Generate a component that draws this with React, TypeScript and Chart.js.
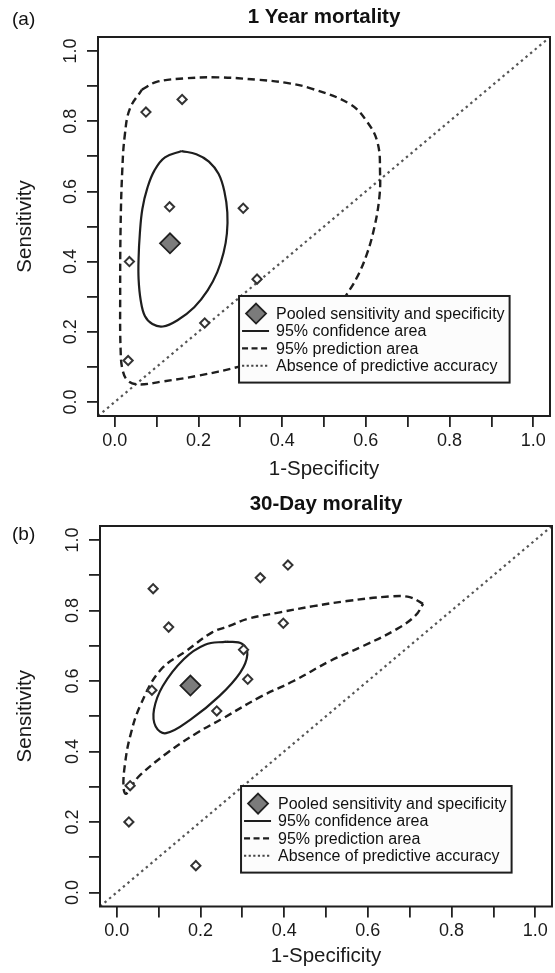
import React, { useEffect, useRef } from "react";
import { Chart, registerables } from "chart.js";

Chart.register(...registerables);

const FONT = "'Liberation Sans', Arial, Helvetica, sans-serif";

// ---------- shared axis data ----------
const tickValues = [0, 0.1, 0.2, 0.3, 0.4, 0.5, 0.6, 0.7, 0.8, 0.9, 1.0];
const tickLabels = ["0.0", "", "0.2", "", "0.4", "", "0.6", "", "0.8", "", "1.0"];
const xAxisTitle = "1-Specificity";
const yAxisTitle = "Sensitivity";
const legendLabels = [
  "Pooled sensitivity and specificity",
  "95% confidence area",
  "95% prediction area",
  "Absence of predictive accuracy",
];
const diagonalX = [-0.04, 1.04];
const diagonalY = [-0.04, 1.04];

// ---------- panel (a): 1 Year mortality ----------
const titleA = "1 Year mortality";
const tagA = "(a)";
const studyAX = [0.0745, 0.161, 0.131, 0.307, 0.035, 0.34, 0.215, 0.032];
const studyAY = [0.826, 0.862, 0.556, 0.552, 0.4, 0.35, 0.225, 0.118];
const pooledAX = [0.132];
const pooledAY = [0.452];
const confAX = [0.16, 0.195, 0.225, 0.248, 0.262, 0.269, 0.268, 0.26, 0.245, 0.222, 0.19, 0.15, 0.115, 0.09, 0.072, 0.062, 0.057, 0.057, 0.06, 0.066, 0.078, 0.095, 0.12, 0.16];
const confAY = [0.715, 0.706, 0.685, 0.65, 0.6, 0.54, 0.48, 0.425, 0.37, 0.318, 0.27, 0.233, 0.215, 0.222, 0.245, 0.29, 0.35, 0.41, 0.48, 0.55, 0.61, 0.66, 0.697, 0.715];
const predAX = [0.065, 0.1, 0.167, 0.247, 0.343, 0.407, 0.47, 0.562, 0.602, 0.628, 0.634, 0.632, 0.62, 0.602, 0.578, 0.554, 0.52, 0.46, 0.38, 0.295, 0.2, 0.112, 0.058, 0.032, 0.019, 0.014, 0.013, 0.014, 0.018, 0.024, 0.036, 0.065];
const predAY = [0.89, 0.912, 0.922, 0.925, 0.918, 0.91, 0.893, 0.849, 0.8, 0.739, 0.65, 0.58, 0.496, 0.42, 0.353, 0.306, 0.245, 0.18, 0.13, 0.1, 0.075, 0.058, 0.05, 0.06, 0.09, 0.15, 0.3, 0.5, 0.66, 0.76, 0.835, 0.89];

// ---------- panel (b): 30-Day morality ----------
const titleB = "30-Day morality";
const tagB = "(b)";
const studyBX = [0.087, 0.124, 0.084, 0.032, 0.029, 0.189, 0.239, 0.303, 0.313, 0.343, 0.409, 0.398];
const studyBY = [0.862, 0.753, 0.574, 0.303, 0.2, 0.076, 0.515, 0.689, 0.605, 0.893, 0.929, 0.764];
const pooledBX = [0.176];
const pooledBY = [0.587];
const confBX = [0.262, 0.3, 0.312, 0.295, 0.245, 0.177, 0.118, 0.093, 0.089, 0.11, 0.16, 0.211, 0.262];
const confBY = [0.712, 0.705, 0.675, 0.624, 0.557, 0.491, 0.452, 0.471, 0.519, 0.586, 0.662, 0.703, 0.712];
const predBX = [0.732, 0.7, 0.653, 0.55, 0.47, 0.39, 0.311, 0.271, 0.228, 0.167, 0.1036, 0.0557, 0.032, 0.02, 0.016, 0.022, 0.04, 0.0557, 0.1196, 0.1914, 0.255, 0.343, 0.4225, 0.51, 0.59, 0.67, 0.714, 0.732];
const predBY = [0.819, 0.838, 0.84, 0.827, 0.8125, 0.795, 0.776, 0.757, 0.738, 0.686, 0.63, 0.529, 0.443, 0.367, 0.3, 0.28, 0.31, 0.333, 0.395, 0.4526, 0.495, 0.555, 0.6, 0.657, 0.7, 0.748, 0.786, 0.819];

// legend anchor (top-left corner in data units)
const legendAnchorX = 0.297;
const legendAnchorY = 0.302;

function xy(xs: number[], ys: number[]) {
  return xs.map((x, i) => ({ x, y: ys[i] }));
}

type PanelData = {
  title: string;
  tag: string;
  studyX: number[];
  studyY: number[];
  pooledX: number[];
  pooledY: number[];
  confX: number[];
  confY: number[];
  predX: number[];
  predY: number[];
};

type PanelLayout = {
  top: number;
  height: number;
  plotLeft: number;
  plotRight: number;
  plotTop: number;
  plotBottom: number;
  titlePadTop: number;
  xTitlePadBottom: number;
  tagY: number;
};

function drawDiamond(ctx: CanvasRenderingContext2D, cx: number, cy: number, r: number) {
  ctx.beginPath();
  ctx.moveTo(cx, cy - r);
  ctx.lineTo(cx + r, cy);
  ctx.lineTo(cx, cy + r);
  ctx.lineTo(cx - r, cy);
  ctx.closePath();
}

function makePlugins(data: PanelData, L: PanelLayout) {
  return [
    {
      id: "frameAndLegend",
      afterDatasetsDraw(chart: any) {
        const { ctx, chartArea, scales } = chart;
        ctx.save();
        // plot frame
        ctx.lineWidth = 2;
        ctx.strokeStyle = "#1e1e1e";
        ctx.setLineDash([]);
        ctx.strokeRect(chartArea.left, chartArea.top, chartArea.right - chartArea.left, chartArea.bottom - chartArea.top);

        // legend
        const left = scales.x.getPixelForValue(legendAnchorX);
        const top = scales.y.getPixelForValue(legendAnchorY);
        ctx.font = `16px ${FONT}`;
        const textW = Math.max(...legendLabels.map((t) => ctx.measureText(t).width));
        const rowH = 17.4;
        const w = 37 + textW + 5;
        const h = 17.6 + rowH * 3 + 16.8;
        ctx.fillStyle = "#fcfcfc";
        ctx.fillRect(left, top, w, h);
        ctx.strokeStyle = "#1e1e1e";
        ctx.lineWidth = 2;
        ctx.strokeRect(left, top, w, h);

        legendLabels.forEach((label, i) => {
          const cy = top + 17.6 + i * rowH;
          ctx.save();
          if (i === 0) {
            drawDiamond(ctx, left + 17, cy, 10);
            ctx.fillStyle = "#7b7b7b";
            ctx.fill();
            ctx.lineWidth = 1.8;
            ctx.strokeStyle = "#202020";
            ctx.stroke();
          } else {
            ctx.beginPath();
            ctx.moveTo(left + 3, cy);
            ctx.lineTo(left + 30, cy);
            if (i === 1) {
              ctx.setLineDash([]);
              ctx.strokeStyle = "#1e1e1e";
              ctx.lineWidth = 2;
            } else if (i === 2) {
              ctx.setLineDash([6, 3.5]);
              ctx.strokeStyle = "#1e1e1e";
              ctx.lineWidth = 2.4;
            } else {
              ctx.setLineDash([2.2, 2.4]);
              ctx.strokeStyle = "#444";
              ctx.lineWidth = 2;
            }
            ctx.stroke();
          }
          ctx.restore();
          ctx.fillStyle = "#111";
          ctx.textBaseline = "middle";
          ctx.textAlign = "left";
          ctx.fillText(label, left + 37, cy + 1);
        });
        ctx.restore();
      },
      afterDraw(chart: any) {
        const { ctx } = chart;
        ctx.save();
        ctx.font = `19px ${FONT}`;
        ctx.fillStyle = "#111";
        ctx.textBaseline = "middle";
        ctx.textAlign = "left";
        ctx.fillText(data.tag, 12, L.tagY);
        ctx.restore();
      },
    },
  ];
}

function RocPanel({ data, layout }: { data: PanelData; layout: PanelLayout }) {
  const ref = useRef<HTMLCanvasElement | null>(null);

  useEffect(() => {
    if (!ref.current) return;
    const L = layout;
    const tickFont = { family: FONT, size: 18 };
    const titleFont = { family: FONT, size: 20.5 };
    const grid = {
      drawOnChartArea: false,
      drawTicks: true,
      tickLength: 11,
      color: "#222",
      lineWidth: 1.8,
    };
    const chart = new Chart(ref.current, {
      type: "scatter",
      data: {
        datasets: [
          {
            label: legendLabels[0],
            data: xy(data.pooledX, data.pooledY),
            pointStyle: "rectRot",
            pointRadius: 10,
            pointHoverRadius: 10,
            backgroundColor: "#7b7b7b",
            borderColor: "#202020",
            borderWidth: 1.8,
            order: 0,
          },
          {
            label: "Studies",
            data: xy(data.studyX, data.studyY),
            pointStyle: "rectRot",
            pointRadius: 4.6,
            pointHoverRadius: 4.6,
            backgroundColor: "#ffffff",
            borderColor: "#333",
            borderWidth: 2,
            order: 1,
          },
          {
            label: legendLabels[1],
            data: xy(data.confX, data.confY),
            showLine: true,
            pointRadius: 0,
            borderColor: "#1e1e1e",
            borderWidth: 2.2,
            tension: 0.4,
            fill: false,
            order: 2,
          },
          {
            label: legendLabels[2],
            data: xy(data.predX, data.predY),
            showLine: true,
            pointRadius: 0,
            borderColor: "#1e1e1e",
            borderWidth: 2.4,
            borderDash: [7.5, 4.5],
            tension: 0.4,
            fill: false,
            order: 3,
          },
          {
            label: legendLabels[3],
            data: xy(diagonalX, diagonalY),
            showLine: true,
            pointRadius: 0,
            borderColor: "#555",
            borderWidth: 2.2,
            borderDash: [2.4, 3.6],
            fill: false,
            order: 4,
          },
        ],
      },
      options: {
        animation: false,
        responsive: true,
        maintainAspectRatio: false,
        events: [],
        layout: {
          autoPadding: false,
          padding: { left: 0, right: 555 - L.plotRight, top: 0, bottom: 0 },
        },
        plugins: {
          legend: { display: false },
          tooltip: { enabled: false },
          title: {
            display: true,
            text: data.title,
            fullSize: false,
            color: "#111",
            font: { family: FONT, size: 20.5, weight: "bold", lineHeight: 1.2 },
            padding: { top: L.titlePadTop, bottom: L.plotTop - L.titlePadTop - 24.6 },
          },
        },
        scales: {
          x: {
            type: "linear",
            min: -0.04,
            max: 1.04,
            afterBuildTicks: (s: any) => {
              s.ticks = tickValues.map((v) => ({ value: v }));
            },
            afterFit: (s: any) => {
              s.height = L.height - L.plotBottom;
              s.paddingLeft = 0;
              s.paddingRight = 0;
            },
            grid,
            border: { display: false },
            ticks: {
              autoSkip: false,
              maxRotation: 0,
              minRotation: 0,
              padding: 3,
              color: "#1a1a1a",
              font: tickFont,
              callback: (_v: any, i: number) => tickLabels[i],
            },
            title: {
              display: true,
              text: xAxisTitle,
              color: "#1a1a1a",
              font: titleFont,
              padding: { top: 0, bottom: L.xTitlePadBottom },
            },
          },
          y: {
            type: "linear",
            min: -0.04,
            max: 1.04,
            afterBuildTicks: (s: any) => {
              s.ticks = tickValues.map((v) => ({ value: v }));
            },
            afterFit: (s: any) => {
              s.width = L.plotLeft;
              s.paddingTop = 0;
              s.paddingBottom = 0;
            },
            grid,
            border: { display: false },
            ticks: {
              autoSkip: false,
              minRotation: 90,
              maxRotation: 90,
              crossAlign: "center",
              padding: 3,
              color: "#1a1a1a",
              font: tickFont,
              callback: (_v: any, i: number) => tickLabels[i],
            },
            title: {
              display: true,
              text: yAxisTitle,
              color: "#1a1a1a",
              font: titleFont,
              padding: { top: 13, bottom: 0 },
            },
          },
        },
      } as any,
      plugins: makePlugins(data, L) as any,
    });
    return () => chart.destroy();
  }, [data, layout]);

  return (
    <div
      style={{
        position: "absolute",
        left: 0,
        top: layout.top,
        width: 555,
        height: layout.height,
      }}
    >
      <canvas ref={ref} />
    </div>
  );
}

const panelA: PanelData = {
  title: titleA,
  tag: tagA,
  studyX: studyAX,
  studyY: studyAY,
  pooledX: pooledAX,
  pooledY: pooledAY,
  confX: confAX,
  confY: confAY,
  predX: predAX,
  predY: predAY,
};

const panelB: PanelData = {
  title: titleB,
  tag: tagB,
  studyX: studyBX,
  studyY: studyBY,
  pooledX: pooledBX,
  pooledY: pooledBY,
  confX: confBX,
  confY: confBY,
  predX: predBX,
  predY: predBY,
};

const layoutA: PanelLayout = {
  top: 0,
  height: 485,
  plotLeft: 98,
  plotRight: 550,
  plotTop: 37,
  plotBottom: 416,
  titlePadTop: 5,
  xTitlePadBottom: 3,
  tagY: 20,
};

const layoutB: PanelLayout = {
  top: 485,
  height: 488,
  plotLeft: 100,
  plotRight: 552,
  plotTop: 41,
  plotBottom: 421.5,
  titlePadTop: 7.5,
  xTitlePadBottom: 4,
  tagY: 49.5,
};

export default function App() {
  return (
    <div
      style={{
        position: "absolute",
        left: 0,
        top: 0,
        width: 555,
        height: 973,
        background: "#ffffff",
      }}
    >
      <RocPanel data={panelA} layout={layoutA} />
      <RocPanel data={panelB} layout={layoutB} />
    </div>
  );
}
